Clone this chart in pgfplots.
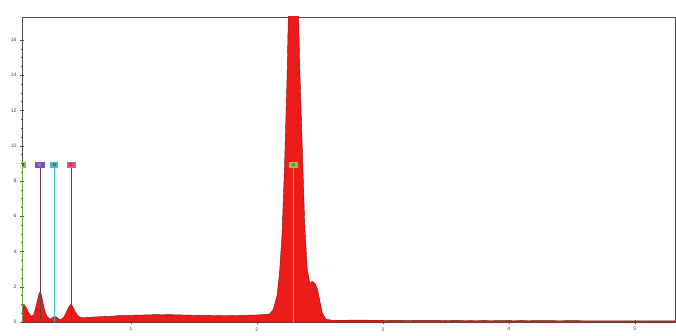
\documentclass[border=0pt]{standalone}
\usepackage{fontspec}
\setmainfont{Liberation Sans}
\usepackage{pgfplots}
\pgfplotsset{compat=1.18}
\definecolor{specred}{HTML}{EE1B1B}
\definecolor{specline}{HTML}{7A1212}
\definecolor{mkgreen}{HTML}{7EC850}
\definecolor{mkpurple}{HTML}{7A4FC2}
\definecolor{mkteal}{HTML}{4CB8C4}
\definecolor{mkpink}{HTML}{E2568A}
\definecolor{lnbrown}{HTML}{6A4048}
\definecolor{lnteal}{HTML}{40C0C8}
\definecolor{lnsgreen}{HTML}{A8C838}
\begin{document}
\begin{tikzpicture}[x=1pt,y=1pt]
\useasboundingbox (-22,-13) rectangle (654,322);
\begin{axis}[
  scale only axis, width=653pt, height=305pt,
  xmin=0.135, xmax=5.32, ymin=0, ymax=17.3,
  axis line style={black!70, line width=0.6pt},
  xtick={1,2,3,4,5}, minor x tick num=4,
  ytick={0,2,4,6,8,10,12,14,16}, minor y tick num=3,
  tick align=center, major tick length=4pt, minor tick length=2pt,
  tick style={black!70, line width=0.4pt},
  ticklabel style={font=\fontsize{5}{5.5}\selectfont, text=black!75},
  /pgf/number format/assume math mode=true,
  xtick pos=bottom, ytick pos=left,
  clip=true,
]
\addplot[fill=specred, draw=specline, line width=0.4pt] coordinates {
(0.135,0) (0.14,0.9) (0.15,1.0) (0.17,0.8) (0.19,0.5) (0.21,0.3) (0.23,0.45)
(0.25,1.0) (0.27,1.6) (0.28,1.75) (0.29,1.5) (0.31,0.8) (0.33,0.35) (0.35,0.2)
(0.37,0.2) (0.39,0.32) (0.41,0.28) (0.43,0.15) (0.45,0.15) (0.47,0.3) (0.49,0.6)
(0.51,0.9) (0.525,1.0) (0.54,0.85) (0.56,0.55) (0.58,0.35) (0.60,0.25) (0.65,0.26)
(0.70,0.28) (0.75,0.30) (0.80,0.32) (0.85,0.33) (0.90,0.36) (0.95,0.36) (1.00,0.38)
(1.05,0.39) (1.10,0.40) (1.15,0.41) (1.20,0.42) (1.25,0.41) (1.30,0.42) (1.35,0.41)
(1.40,0.40) (1.45,0.39) (1.50,0.38) (1.55,0.38) (1.60,0.38) (1.65,0.37) (1.70,0.36)
(1.75,0.37) (1.80,0.36) (1.85,0.37) (1.90,0.38) (1.95,0.39) (2.00,0.40) (2.05,0.42)
(2.10,0.45) (2.13,0.7) (2.16,1.5) (2.18,2.8) (2.20,5) (2.22,9) (2.24,14)
(2.26,21) (2.28,27) (2.30,27) (2.32,21) (2.34,14.5) (2.36,10) (2.38,5.5)
(2.40,3.0) (2.42,2.2) (2.44,2.3) (2.46,2.2) (2.48,1.9) (2.50,1.2) (2.52,0.5)
(2.55,0.15) (2.60,0.10) (2.70,0.10) (2.80,0.11) (2.90,0.10) (3.00,0.10) (3.10,0.09)
(3.20,0.10) (3.30,0.09) (3.40,0.09) (3.50,0.10) (3.60,0.09) (3.70,0.08) (3.80,0.09)
(3.90,0.08) (4.00,0.08) (4.10,0.09) (4.20,0.08) (4.30,0.08) (4.40,0.07) (4.50,0.08)
(4.60,0.07) (4.70,0.07) (4.80,0.07) (4.90,0.07) (5.00,0.06) (5.10,0.07) (5.20,0.06)
(5.32,0.06) (5.32,0)
} \closedcycle;
% element marker lines
\addplot[mkgreen!80!black, line width=0.7pt] coordinates {(0.14,0) (0.14,8.9)};
\addplot[lnbrown, line width=0.7pt] coordinates {(0.277,0) (0.277,8.9)};
\addplot[lnteal, line width=0.7pt] coordinates {(0.392,0) (0.392,8.9)};
\addplot[lnbrown, line width=0.7pt] coordinates {(0.525,0) (0.525,8.9)};
\addplot[lnsgreen, line width=0.7pt] coordinates {(2.29,0) (2.29,8.9)};
% marker labels
\node[fill=mkgreen, inner sep=0.8pt, minimum width=6pt, minimum height=6pt, font=\fontsize{4}{4}\selectfont] at (axis cs:0.145,8.9) {B};
\node[fill=mkpurple, text=white, inner sep=0.8pt, minimum width=10pt, minimum height=6pt, font=\fontsize{4}{4}\selectfont] at (axis cs:0.277,8.9) {C};
\node[fill=mkteal, inner sep=0.8pt, minimum width=8pt, minimum height=6pt, font=\fontsize{4}{4}\selectfont] at (axis cs:0.392,8.9) {N};
\node[fill=mkpink, inner sep=0.8pt, minimum width=9pt, minimum height=6pt, font=\fontsize{4}{4}\selectfont] at (axis cs:0.525,8.9) {O};
\node[fill=mkgreen, inner sep=0.8pt, minimum width=9pt, minimum height=6pt, font=\fontsize{4}{4}\selectfont] at (axis cs:2.29,8.9) {S};
% axis captions
\node[anchor=south west, inner sep=1pt, font=\fontsize{4.5}{5}\selectfont, text=black!70] at (rel axis cs:0.005,1) {cps/eV};
\node[anchor=north, inner sep=0pt, font=\fontsize{4.5}{5}\selectfont, text=black!70] at (axis cs:2.72,0) [yshift=-8pt] {keV};
\end{axis}
\end{tikzpicture}
\end{document}
